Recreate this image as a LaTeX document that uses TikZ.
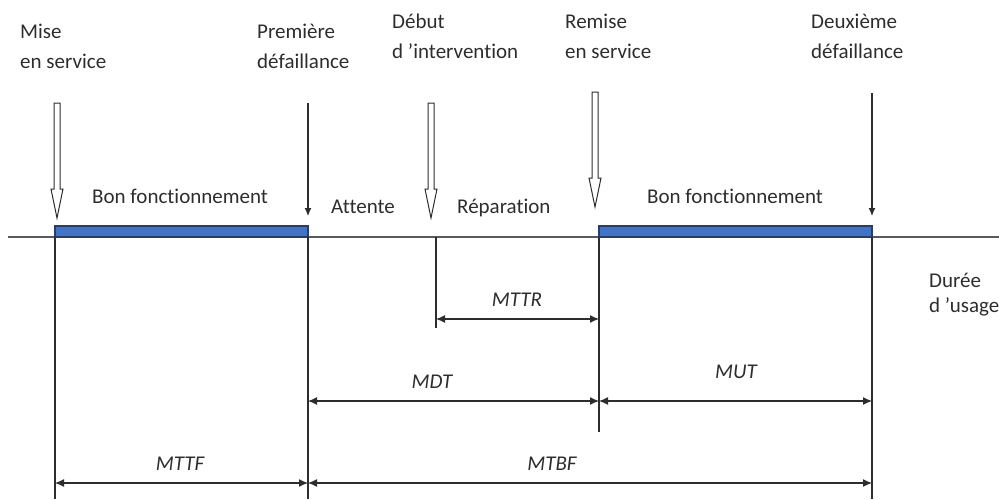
\documentclass[tikz,border=0pt]{standalone}
\usepackage{fontspec}
\setmainfont{Carlito}[Ligatures=NoCommon]
\usetikzlibrary{arrows.meta}
\definecolor{ink}{RGB}{45,45,45}
\definecolor{axisgray}{RGB}{90,90,90}
\definecolor{barfill}{RGB}{68,114,196}
\definecolor{barline}{RGB}{40,62,105}
\begin{document}
\begin{tikzpicture}[x=1pt,y=-1pt,
  lbl/.style={font=\fontsize{21}{29.5}\selectfont, text=ink, align=left, inner sep=0pt, anchor=base west},
  dimlbl/.style={font=\fontsize{21}{24}\selectfont\itshape, text=ink, inner sep=0pt, anchor=base},
  guide/.style={draw=ink, line width=1.1pt},
  dimline/.style={draw=ink, line width=1.1pt, {Latex[length=9pt,width=8pt]}-{Latex[length=9pt,width=8pt]}},
  failarrow/.style={draw=ink, line width=1.1pt, -{Latex[length=8pt,width=7pt]}},
  bar/.style={draw=barline, fill=barfill, line width=1.2pt},
  hollowdown/.pic={\draw[ink, line width=1pt, fill=white, line join=miter]
    (0,0) -- (-6,-29) -- (-3,-29) -- (-3,-115) -- (3,-115) -- (3,-29) -- (6,-29) -- cycle;}
]
\useasboundingbox (0,0) rectangle (999,499);

% time axis
\coordinate (axL) at (8,237);
\coordinate (axR) at (999,237);
\draw[axisgray, line width=1.3pt] (axL) -- (axR);

% instants on the axis
\coordinate (t0) at (55,237);
\coordinate (t1) at (308,237);
\coordinate (t2) at (436,237);
\coordinate (t3) at (599,237);
\coordinate (t4) at (872,237);

% operating periods
\draw[bar] (55,226) rectangle (308,237);
\draw[bar] (599,226) rectangle (872,237);

% guide lines down from each instant
\coordinate (g0) at (55,499);
\coordinate (g1) at (308,499);
\coordinate (g2) at (436,328);
\coordinate (g3) at (599,432);
\coordinate (g4) at (872,499);
\draw[guide] (t0) -- (g0);
\draw[guide] (t1) -- (g1);
\draw[guide] (t2) -- (g2);
\draw[guide] (t3) -- (g3);
\draw[guide] (t4) -- (g4);

% event markers
\pic at (57,218) {hollowdown};
\pic at (431,218) {hollowdown};
\pic at (595,207) {hollowdown};
\coordinate (f1top) at (308,103);
\coordinate (f1tip) at (308,216);
\coordinate (f2top) at (872,93);
\coordinate (f2tip) at (872,216);
\draw[failarrow] (f1top) -- (f1tip);
\draw[failarrow] (f2top) -- (f2tip);

% event labels (anchored on the baseline of their last line)
\node[lbl] (mise) at (20,68) {Mise\\en service};
\node[lbl] (prem) at (257,68) {Première\\défaillance};
\node[lbl] (debut) at (392,58) {Début\\d ’intervention};
\node[lbl] (remise) at (565,58) {Remise\\en service};
\node[lbl] (deux) at (811,58) {Deuxième\\défaillance};

% state labels
\node[lbl] (bon1) at (92,203) {Bon fonctionnement};
\node[lbl] (att) at (331,213) {Attente};
\node[lbl] (rep) at (457,213) {Réparation};
\node[lbl] (bon2) at (647,203) {Bon fonctionnement};
\node[lbl, font=\fontsize{21}{25}\selectfont] (usage) at (929,312) {Durée\\d ’usage};

% dimension lines
\coordinate (rA) at (436,319);
\coordinate (rB) at (599,319);
\coordinate (dA) at (308,401);
\coordinate (dB) at (599,401);
\coordinate (uB) at (872,401);
\coordinate (fA) at (55,483);
\coordinate (fB) at (308,483);
\coordinate (bB) at (872,483);
\draw[dimline] (rA) -- (rB);
\draw[dimline] (dA) -- (dB);
\draw[dimline] (dB) -- (uB);
\draw[dimline] (fA) -- (fB);
\draw[dimline] (fB) -- (bB);

\node[dimlbl] (mttr) at (517,306) {MTTR};
\node[dimlbl] (mdt) at (432,388) {MDT};
\node[dimlbl] (mut) at (736,378) {MUT};
\node[dimlbl] (mttf) at (180,470) {MTTF};
\node[dimlbl] (mtbf) at (552,470) {MTBF};
\end{tikzpicture}
\end{document}
